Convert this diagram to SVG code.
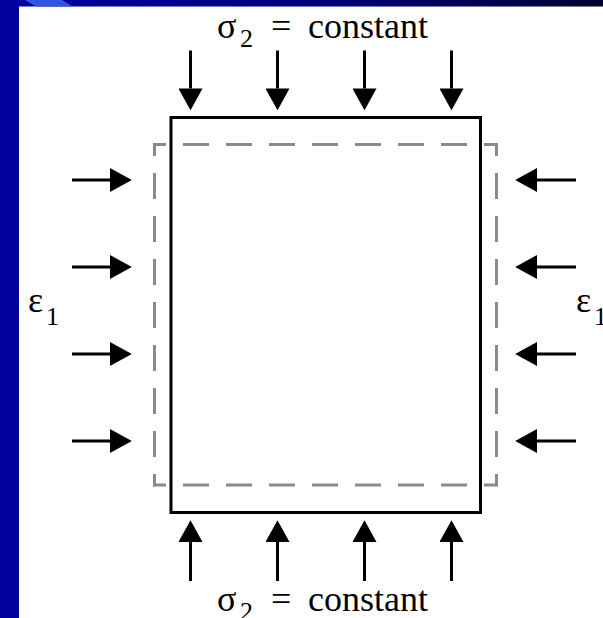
<svg xmlns="http://www.w3.org/2000/svg" width="603" height="618" viewBox="0 0 603 618">
<style>
.lbl{font-family:"Liberation Serif","Times New Roman",serif;fill:#000;}
.big{font-size:36px;}
.sub{font-size:26px;}
.arr{stroke:#000;stroke-width:3;fill:none;marker-end:url(#head);}
.dash{stroke:#8a8a8a;stroke-width:3;fill:none;stroke-dasharray:26 17;stroke-dashoffset:13;}
</style>
<defs>
<linearGradient id="topbar" x1="0" y1="0" x2="1" y2="0">
<stop offset="0" stop-color="#0000a0"/>
<stop offset="0.5" stop-color="#000080"/>
<stop offset="1" stop-color="#000030"/>
</linearGradient>
<marker id="head" markerUnits="userSpaceOnUse" markerWidth="22" markerHeight="24" viewBox="0 0 20 22" refX="0" refY="11" orient="auto">
<path d="M0,0 L20,11 L0,22 Z" fill="#000"/>
</marker>
</defs>
<rect x="0" y="0" width="603" height="618" fill="#fff"/>
<g id="frame">
<rect x="0" y="0" width="603" height="6.5" fill="url(#topbar)"/>
<rect x="0" y="0" width="19" height="618" fill="#00009a"/>
<polygon points="25,0 62,0 73,6.5 36,6.5" fill="#3355dd"/>
</g>
<g id="specimen">
<rect x="171" y="117.5" width="309.5" height="395" fill="none" stroke="#000" stroke-width="3"/>
</g>
<g id="deformed">
<line class="dash" x1="153" y1="144.5" x2="498" y2="144.5"/>
<line class="dash" x1="153" y1="485" x2="498" y2="485"/>
<line class="dash" x1="154.5" y1="143" x2="154.5" y2="486.5"/>
<line class="dash" x1="496.5" y1="143" x2="496.5" y2="486.5"/>
</g>
<g id="connectors">
<line class="arr" x1="190.5" y1="50.5" x2="190.5" y2="88.5"/>
<line class="arr" x1="277.5" y1="50.5" x2="277.5" y2="88.5"/>
<line class="arr" x1="364.5" y1="50.5" x2="364.5" y2="88.5"/>
<line class="arr" x1="451.5" y1="50.5" x2="451.5" y2="88.5"/>
<line class="arr" x1="190.5" y1="581" x2="190.5" y2="542"/>
<line class="arr" x1="277.5" y1="581" x2="277.5" y2="542"/>
<line class="arr" x1="364.5" y1="581" x2="364.5" y2="542"/>
<line class="arr" x1="451.5" y1="581" x2="451.5" y2="542"/>
<line class="arr" x1="72" y1="180" x2="110" y2="180"/>
<line class="arr" x1="72" y1="267" x2="110" y2="267"/>
<line class="arr" x1="72" y1="354" x2="110" y2="354"/>
<line class="arr" x1="72" y1="441" x2="110" y2="441"/>
<line class="arr" x1="576" y1="180" x2="537" y2="180"/>
<line class="arr" x1="576" y1="267" x2="537" y2="267"/>
<line class="arr" x1="576" y1="354" x2="537" y2="354"/>
<line class="arr" x1="576" y1="441" x2="537" y2="441"/>
</g>
<g id="label-top">
<text class="lbl big" x="217" y="38">σ</text>
<text class="lbl sub" x="240" y="47">2</text>
<text class="lbl big" x="271" y="38">=</text>
<text class="lbl big" x="308" y="38">constant</text>
</g>
<g id="label-bottom">
<text class="lbl big" x="217" y="610.5">σ</text>
<text class="lbl sub" x="240" y="619.5">2</text>
<text class="lbl big" x="271" y="610.5">=</text>
<text class="lbl big" x="308" y="610.5">constant</text>
</g>
<g id="label-left">
<text class="lbl big" x="28" y="312">ε</text>
<text class="lbl sub" x="46" y="325">1</text>
</g>
<g id="label-right">
<text class="lbl big" x="576" y="312">ε</text>
<text class="lbl sub" x="594" y="325">1</text>
</g>
</svg>
